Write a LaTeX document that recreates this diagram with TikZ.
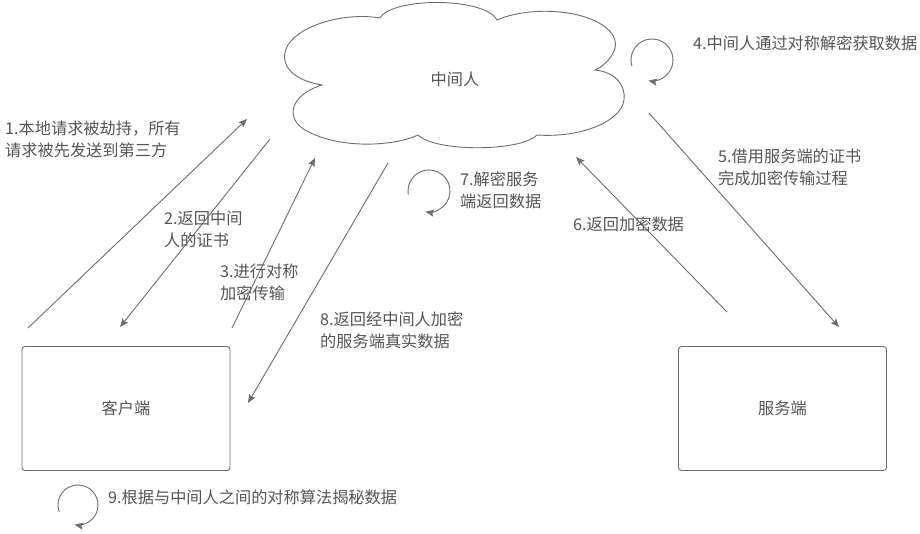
\documentclass[tikz,border=0pt]{standalone}
\usepackage{fontspec}
\newfontfamily\cjk{Noto Sans CJK SC}
\usetikzlibrary{arrows.meta}
\definecolor{txt}{HTML}{555555}
\definecolor{ln}{HTML}{6E6E6E}
\begin{document}
\begin{tikzpicture}[x=1pt,y=1pt,
  conn/.style={draw=ln, line width=0.9pt, -{Stealth[length=8.5pt,width=7pt,inset=1.5pt]}},
  lbl/.style={font=\cjk\fontsize{16.2}{22}\selectfont, text=txt, inner sep=0pt, anchor=west, align=left},
  boxnode/.style={draw=ln, line width=0.9pt, rounded corners=3pt, minimum width=208pt, minimum height=124pt, font=\cjk\fontsize{16.2}{22}\selectfont, text=txt},
  cloudline/.style={draw=ln, line width=0.9pt}]
\useasboundingbox (0,0) rectangle (920,-534);
\fill[white] (0,0) rectangle (920,-534);

% cloud
\draw[cloudline] (380,-18) .. controls (392,3) and (485,3) .. (497,-20)
  .. controls (515,-12) and (540,-10) .. (560,-12)
  .. controls (600,-16) and (625,-35) .. (612,-55)
  .. controls (607,-63) and (600,-68) .. (595,-70)
  .. controls (615,-72) and (626,-85) .. (624,-100)
  .. controls (621,-122) and (580,-138) .. (537,-135)
  .. controls (520,-152) and (435,-152) .. (418,-135)
  .. controls (395,-146) and (340,-150) .. (305,-130)
  .. controls (285,-118) and (290,-95) .. (322,-85)
  .. controls (290,-80) and (278,-62) .. (288,-45)
  .. controls (300,-25) and (345,-12) .. cycle;
\node[lbl, anchor=center] (mitm) at (455,-79) {中间人};

% boxes
\node[boxnode] (client) at (126,-408.5) {客户端};
\node[boxnode] (server) at (782.5,-408.5) {服务端};

% connector end points
\coordinate (a1s) at (28,-328);  \coordinate (a1e) at (247,-119);
\coordinate (a2s) at (270,-139); \coordinate (a2e) at (120,-327);
\coordinate (a3s) at (232,-328); \coordinate (a3e) at (315,-158);
\coordinate (a8s) at (388,-163); \coordinate (a8e) at (248,-403);
\coordinate (a5s) at (649,-113); \coordinate (a5e) at (839,-327);
\coordinate (a6s) at (727,-312); \coordinate (a6e) at (576,-157);
\coordinate (c4) at (652,-60);
\coordinate (c7) at (429,-191);
\coordinate (c9) at (78,-505);

\draw[conn] (a1s) -- (a1e);
\draw[conn] (a2s) -- (a2e);
\draw[conn] (a3s) -- (a3e);
\draw[conn] (a8s) -- (a8e);
\draw[conn] (a5s) -- (a5e);
\draw[conn] (a6s) -- (a6e);

% self loops
\draw[conn] ([shift={(197:21)}]c4) arc[start angle=197, end angle=-100, radius=21];
\draw[conn] ([shift={(190:21)}]c7) arc[start angle=190, end angle=-100, radius=21];
\draw[conn] ([shift={(200:20)}]c9) arc[start angle=200, end angle=-100, radius=20];

% labels
\node[lbl] (t1) at (5,-139) {1.本地请求被劫持，所有\\请求被先发送到第三方};
\node[lbl] (t2) at (164,-229) {2.返回中间\\人的证书};
\node[lbl] (t3) at (220,-282) {3.进行对称\\加密传输};
\node[lbl] (t8) at (320,-330) {8.返回经中间人加密\\的服务端真实数据};
\node[lbl] (t7) at (460,-190) {7.解密服务\\端返回数据};
\node[lbl] (t6) at (573,-224) {6.返回加密数据};
\node[lbl] (t5) at (718,-167) {5.借用服务端的证书\\完成加密传输过程};
\node[lbl] (t4) at (693,-43) {4.中间人通过对称解密获取数据};
\node[lbl] (t9) at (108,-497) {9.根据与中间人之间的对称算法揭秘数据};
\end{tikzpicture}
\end{document}
